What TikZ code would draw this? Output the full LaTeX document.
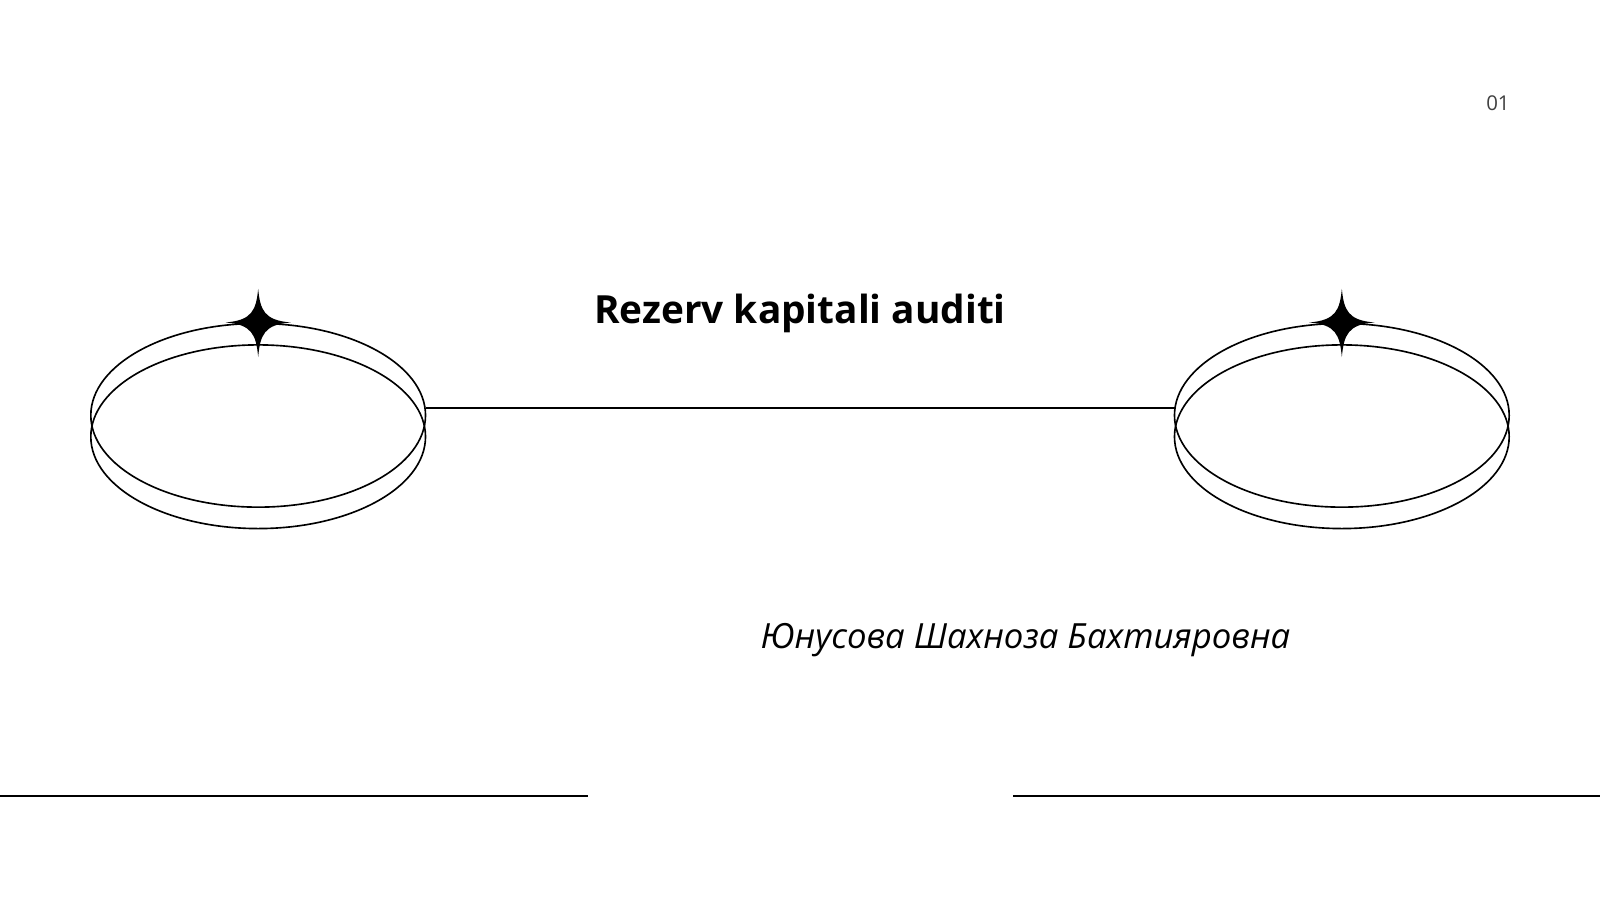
\documentclass[tikz,border=0pt]{standalone}
\usepackage{fontspec}
\setmainfont{Open Sans}
\begin{document}
\begin{tikzpicture}[x=1pt,y=-1pt,
  ln/.style={line width=1.6pt,black},
  star/.style={fill=black}]
\useasboundingbox (0,0) rectangle (1568,882);
\fill[white] (0,0) rectangle (1568,882);
\foreach \cx/\nm in {253/L,1315/R}{
  \draw[ln] (\cx,407) ellipse [x radius=164,y radius=90];
  \draw[ln] (\cx,428) ellipse [x radius=164,y radius=90];
  \fill[star] (\cx,283) .. controls (\cx+2,304) and (\cx+6,314) .. (\cx+32,316)
     .. controls (\cx+6,318) and (\cx+2,328) .. (\cx,350)
     .. controls (\cx-2,328) and (\cx-6,318) .. (\cx-32,316)
     .. controls (\cx-6,314) and (\cx-2,304) .. (\cx,283) -- cycle;
  \coordinate (e\nm) at (\cx,400);
}
\coordinate (a) at (417,400);
\coordinate (b) at (1152,400);
\draw[ln] (a) -- (b);
\coordinate (l1) at (0,780); \coordinate (l2) at (576,780);
\coordinate (r1) at (993,780); \coordinate (r2) at (1568,780);
\draw[ln] (l1) -- (l2);
\draw[ln] (r1) -- (r2);
\node[font=\fontsize{38}{44}\selectfont\bfseries] (title) at (784,307) {Rezerv kapitali auditi};
\node[font=\fontsize{34}{40}\selectfont\itshape] (name) at (1005,627) {Юнусова Шахноза Бахтияровна};
\node[font=\fontsize{20}{24}\selectfont,text=black!75] (num) at (1468,101) {01};
\end{tikzpicture}
\end{document}
